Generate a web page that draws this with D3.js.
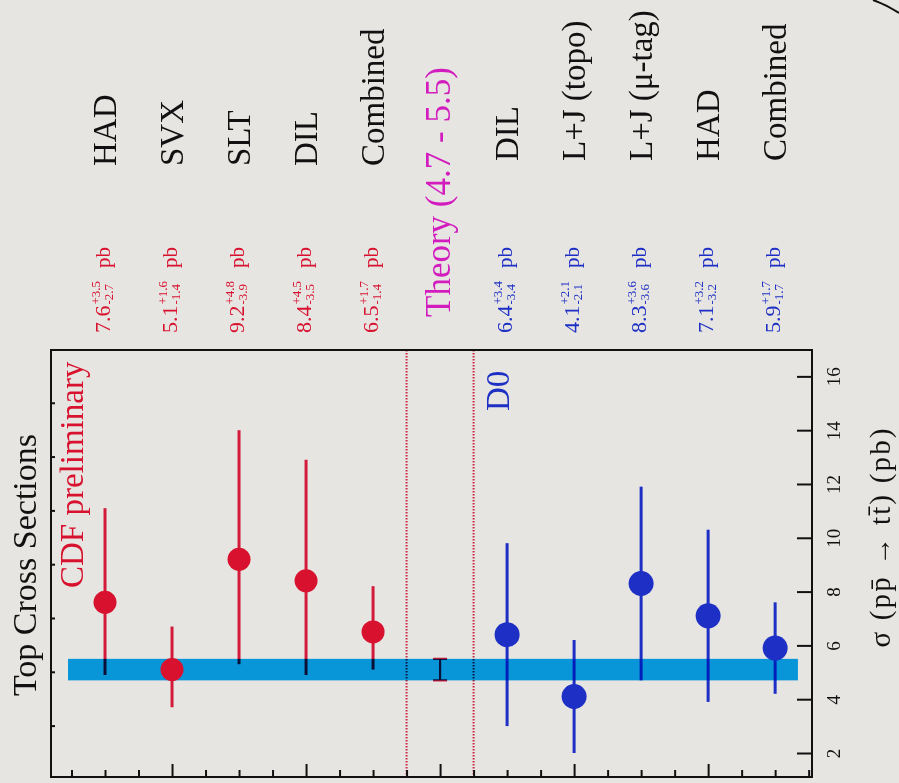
<!DOCTYPE html>
<html><head><meta charset="utf-8">
<script src="https://cdn.jsdelivr.net/npm/d3@7"></script>
<style>
html,body{margin:0;padding:0;background:#e6e5e2;}
svg{display:block;font-family:"Liberation Serif","Times New Roman",serif;}
</style></head><body>
<svg id="chart" width="899" height="783"></svg>
<script>
// ---- data ----
const cdfLabels = ["HAD","SVX","SLT","DIL","Combined"];
const cdfValues = [7.6,5.1,9.2,8.4,6.5];
const cdfPlus   = [3.5,1.6,4.8,4.5,1.7];
const cdfMinus  = [2.7,1.4,3.9,3.5,1.4];
const theoryLabel = "Theory (4.7 - 5.5)";
const theoryRange = [4.7,5.5];
const d0Labels = ["DIL","L+J (topo)","L+J (μ-tag)","HAD","Combined"];
const d0Values = [6.4,4.1,8.3,7.1,5.9];
const d0Plus   = [3.4,2.1,3.6,3.2,1.7];
const d0Minus  = [3.4,2.1,3.6,3.2,1.7];
const sigmaTicks = [2,4,6,8,10,12,14,16];
const sigmaMinor = [3,5,7,9,11,13,15];
const catTicks = d3.range(-0.5,10.51,0.5);

// ---- styles ----
const RED="#d8122e", BLUE="#1d2fc4", MAG="#d21cbe", BAND="rgb(10,167,245)";
const svg = d3.select("#chart");
const L=51, R=812, T=350, B=777;
const x = d3.scaleLinear().domain([-0.806,10.55]).range([L,R]);
const y = d3.scaleLinear().domain([1.108,16.98]).range([B,T]);

const rows = cdfLabels.map((l,i)=>({label:l,idx:i,v:cdfValues[i],p:cdfPlus[i],m:cdfMinus[i],c:RED,r:11.5,lc:"#d41a3a"}))
  .concat(d0Labels.map((l,i)=>({label:l,idx:6+i,v:d0Values[i],p:d0Plus[i],m:d0Minus[i],c:BLUE,r:12.5,lc:BLUE})));
const theoryIdx = 5;

// dotted separators
[4.5,5.5].forEach(v=>{
  svg.append("line").attr("x1",x(v)).attr("x2",x(v)).attr("y1",T).attr("y2",B)
    .attr("stroke","#cc2442").attr("stroke-width",2).attr("stroke-dasharray","1.6,1.4");
});

// error bars
svg.selectAll("line.err").data(rows).enter().append("line").attr("class","err")
  .attr("x1",d=>x(d.idx)).attr("x2",d=>x(d.idx))
  .attr("y1",d=>y(d.v+d.p)).attr("y2",d=>y(d.v-d.m))
  .attr("stroke",d=>d.lc).attr("stroke-width",3);

// theory I-bar
const tg = svg.append("g").attr("stroke","#d41a3a").attr("stroke-width",2.2);
tg.append("line").attr("x1",x(theoryIdx)).attr("x2",x(theoryIdx)).attr("y1",y(theoryRange[1])).attr("y2",y(theoryRange[0]));
theoryRange.forEach(v=>tg.append("line").attr("x1",x(theoryIdx)-7).attr("x2",x(theoryIdx)+7).attr("y1",y(v)).attr("y2",y(v)));

// theory band
svg.append("rect").attr("x",x(-0.552)).attr("width",x(10.34)-x(-0.552))
  .attr("y",y(theoryRange[1])).attr("height",y(theoryRange[0])-y(theoryRange[1]))
  .attr("fill",BAND).style("mix-blend-mode","multiply");

// markers
svg.selectAll("circle.pt").data(rows).enter().append("circle").attr("class","pt")
  .attr("cx",d=>x(d.idx)).attr("cy",d=>y(d.v)).attr("r",d=>d.r).attr("fill",d=>d.c);

// frame
svg.append("rect").attr("x",L).attr("y",T).attr("width",R-L).attr("height",B-T)
  .attr("fill","none").attr("stroke","#111").attr("stroke-width",2);

// right sigma axis
const ay = svg.append("g").attr("transform",`translate(${R},0)`)
  .call(d3.axisRight(y).tickValues(sigmaTicks).tickSizeInner(-15).tickSizeOuter(0).tickFormat(d3.format("d")));
ay.select(".domain").remove();
ay.selectAll(".tick line").attr("stroke","#111").attr("stroke-width",2);
ay.selectAll(".tick text").attr("x",0).attr("dy","0.35em").attr("text-anchor","middle")
  .attr("transform","translate(21,0) rotate(-90)")
  .attr("font-family","Liberation Serif, serif").attr("font-size",19).attr("fill","#111");
// left minor ticks
svg.selectAll("line.lt").data(sigmaMinor).enter().append("line").attr("class","lt")
  .attr("x1",L).attr("x2",L+4).attr("y1",d=>y(d)).attr("y2",d=>y(d)).attr("stroke","#111").attr("stroke-width",2);

// bottom category ticks
const ax = svg.append("g").attr("transform",`translate(0,${B})`)
  .call(d3.axisBottom(x).tickValues(catTicks).tickSizeOuter(0).tickFormat(""));
ax.select(".domain").remove();
ax.selectAll(".tick line").attr("stroke","#111").attr("stroke-width",2)
  .attr("y2",d=>(Math.abs(d%2)===1)?-13:-7);

// rotated text helper
function vtext(cx, yStart, str, size, color, anchor){
  return svg.append("text").attr("transform",`translate(${cx},${yStart}) rotate(-90)`)
    .attr("dy","0.35em").attr("text-anchor",anchor||"start")
    .attr("font-size",size).attr("fill",color).text(str);
}

// category labels
rows.forEach(d=>vtext(x(d.idx)-1, d.idx<5?166:161, d.label, 33, "#111"));
vtext(x(theoryIdx)-2, 317, theoryLabel, 35, MAG);

// value labels
rows.forEach(d=>{
  const g = svg.append("g").attr("transform",`translate(${x(d.idx)+5},333) rotate(-90)`).attr("fill",d.c);
  const main = g.append("text").attr("font-size",22).attr("y",0).text(d.v.toFixed(1));
  const w = main.node().getComputedTextLength();
  const sup = g.append("text").attr("font-size",13).attr("x",w+1).attr("y",-10).text("+"+d.p.toFixed(1));
  const sub = g.append("text").attr("font-size",13).attr("x",w+1).attr("y",3).text("-"+d.m.toFixed(1));
  const w2 = Math.max(sup.node().getComputedTextLength(), sub.node().getComputedTextLength());
  g.append("text").attr("font-size",21).attr("x",w+w2+14).attr("y",0).text("pb");
});

// in-plot labels
vtext(x(-0.5), 588, "CDF preliminary", 33, RED);
vtext(x(5.86), 411, "D0", 33, BLUE);

// title and axis title
vtext(24, 565, "Top Cross Sections", 34, "#111", "middle");
vtext(880, 538, "σ (pp\u0304 → tt\u0304) (pb)", 29, "#111", "middle")
  .attr("textLength",219).attr("lengthAdjust","spacing");

// scan corner arc
svg.append("path").attr("d","M873,0 Q887,5 899,13").attr("fill","none").attr("stroke","#111").attr("stroke-width",2);
</script>
</body></html>
